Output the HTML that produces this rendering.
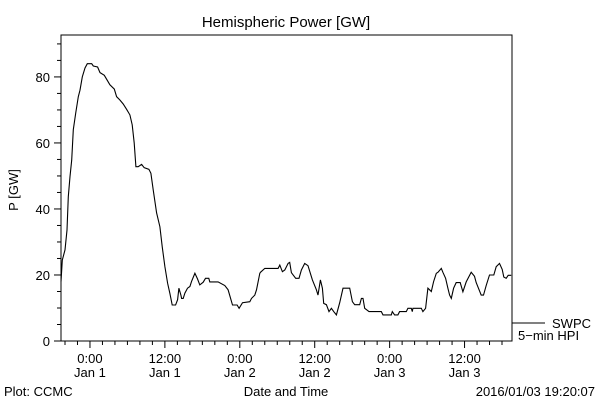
<!DOCTYPE html>
<html><head><meta charset="utf-8"><style>
body{margin:0;background:#fff;}
svg{display:block;font-family:"Liberation Sans",sans-serif;}
</style></head><body>
<svg id="chart" width="600" height="400" viewBox="0 0 600 400" xmlns="http://www.w3.org/2000/svg">
<rect width="600" height="400" fill="#fff"/>
<text x="286" y="27" font-size="15" text-anchor="middle">Hemispheric Power [GW]</text>
<rect x="61" y="35" width="451" height="306" fill="none" stroke="#000" stroke-width="1"/>
<g id="yaxis"></g>
<g id="xaxis"></g>
<text transform="translate(18,190) rotate(-90)" font-size="13" text-anchor="middle">P [GW]</text>
<polyline id="series" fill="none" stroke="#000" stroke-width="1.1"/>
<g>
<line x1="512" y1="323" x2="545" y2="323" stroke="#000"/>
<text x="552" y="328" font-size="13">SWPC</text>
<text x="518" y="340" font-size="13">5−min HPI</text>
</g>
<text x="286" y="396" font-size="13" text-anchor="middle">Date and Time</text>
<text x="4" y="396" font-size="13">Plot: CCMC</text>
<text x="595" y="396" font-size="13" text-anchor="end">2016/01/03 19:20:07</text>
</svg>
<script>
const hours=[-4.64,-4.43,-4,-3.68,-3.47,-3.2,-2.93,-2.67,-2.29,-1.87,-1.6,-1.23,-0.8,-0.43,0.27,0.53,1.23,1.6,2.29,2.67,3.2,3.89,4.27,4.8,5.33,5.87,6.4,6.77,7.09,7.36,7.73,8.27,8.69,9.44,9.76,10.13,10.67,11.2,11.57,12,12.43,12.8,13.17,13.71,14.03,14.24,14.56,14.67,14.93,15.2,15.63,16,16.27,16.8,17.23,17.6,18.13,18.51,19.04,19.2,20.53,21.6,22.13,22.83,23.57,23.89,24.43,25.6,25.87,26.4,26.67,27.2,27.31,28,30.13,30.4,30.83,31.2,31.73,32,32.27,32.96,33.49,33.87,34.4,34.93,35.63,36.27,36.53,36.91,37.23,37.44,37.87,38.29,38.67,39.04,39.47,40,40.53,41.6,42.03,42.4,43.2,43.47,43.73,44,44.69,46.67,46.93,48.27,48.43,48.8,49.33,49.6,50.67,50.93,51.47,51.63,51.73,53.07,53.33,53.76,54.13,54.4,54.67,55.04,55.47,55.73,56.27,56.53,56.96,57.33,57.6,57.87,58.24,58.67,59.31,59.73,60.27,61.07,61.6,61.87,62.67,63.04,63.47,64,64.69,65.07,65.6,66.03,66.29,66.67,66.99,67.47];
const power=[18,24.5,27.6,33.6,43.7,49.8,54.8,64,69,74,76,80,82.7,84,84,83.3,83,81.3,80.5,79.3,77.6,76.3,74,73,71.8,70.2,68.5,65.5,60,52.8,52.8,53.5,52.5,52,50.8,45.8,38.8,34.6,28.6,22.5,17.5,14.4,10.9,10.9,12.5,16,13.9,12.9,12.9,14.5,16,16.5,18,20.5,18.8,17,17.8,19,19,17.9,17.9,16.8,15.5,10.9,10.9,9.9,11.6,11.9,12.9,13.9,15.5,20.5,20.8,22,22,23,21,21.5,23.5,23.8,20.7,19,19,21.5,23.5,22.8,18.5,15.5,13.9,18.5,16,11.4,11,8.9,9.9,8.9,7.9,11.6,16,16,11.9,11,11,12.9,12.9,9.9,8.9,8.9,7.9,7.9,8.9,7.9,7.9,8.9,8.9,9.9,9.9,8.9,9.9,9.9,8.9,9.9,16,15.5,15,18,20.5,20.8,22,20.8,19,16,13.9,12.9,16,17.7,17.7,14.9,17.9,20.8,19.6,17.7,13.9,13.9,16.8,20,20,22.5,23.5,21.7,19.4,19,19.9,19.9];
const yTicks=[0,20,40,60,80];
const xTickHours=[0,12,24,36,48,60];
const xTickTimes=["0:00","12:00","0:00","12:00","0:00","12:00"];
const xTickDays=["Jan 1","Jan 1","Jan 2","Jan 2","Jan 3","Jan 3"];
const NS="http://www.w3.org/2000/svg";
const X0=61,X1=512,Y0=341,Y1=35,HMIN=-4.64,HMAX=67.6,PMIN=0,PMAX=92.7;
function xs(h){return X0+(h-HMIN)/(HMAX-HMIN)*(X1-X0);}
function ys(p){return Y0-(p-PMIN)/(PMAX-PMIN)*(Y0-Y1);}
function mk(tag,attrs,parent){const e=document.createElementNS(NS,tag);for(const k in attrs)e.setAttribute(k,attrs[k]);parent.appendChild(e);return e;}
const yg=document.getElementById('yaxis'),xg=document.getElementById('xaxis');
for(let v=0;v<=90;v+=5){
  const major=v%20===0;
  const t=mk('line',{x1:X0-(major?7:4),x2:X0,y1:ys(v),y2:ys(v),stroke:'#000'},yg);
  
  
}
yTicks.forEach(v=>{
  const t=mk('text',{x:X0-11,y:ys(v)+5,'font-size':13,'text-anchor':'end'},yg);
  t.textContent=v;
  
  
});
for(let h=-4;h<=66;h+=2){
  const major=h%12===0;
  const t=mk('line',{x1:xs(h),x2:xs(h),y1:Y0,y2:Y0+(major?7:4),stroke:'#000'},xg);
  
  
}
xTickHours.forEach((h,i)=>{
  const a=mk('text',{x:xs(h),y:363,'font-size':13,'text-anchor':'middle'},xg);
  a.textContent=xTickTimes[i];
  
  
  const b=mk('text',{x:xs(h),y:377,'font-size':13,'text-anchor':'middle'},xg);
  b.textContent=xTickDays[i];
  
  
});
document.getElementById('series').setAttribute('points',hours.map((h,i)=>xs(h).toFixed(1)+','+ys(power[i]).toFixed(1)).join(' '));
</script>
</body></html>
